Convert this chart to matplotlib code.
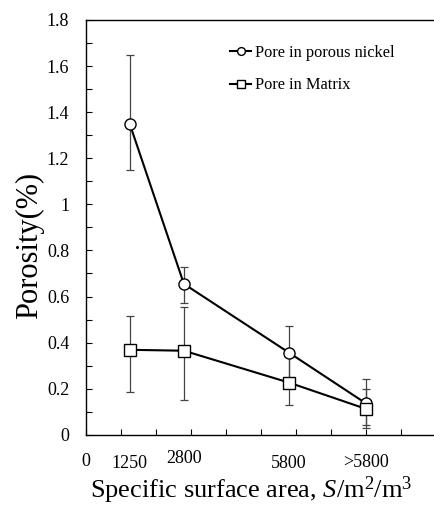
import matplotlib.pyplot as plt
import numpy as np

plt.rcParams['font.family'] = ['Liberation Serif', 'DejaVu Serif']
plt.rcParams['mathtext.fontset'] = 'custom'
plt.rcParams['mathtext.rm'] = 'Liberation Serif'
plt.rcParams['mathtext.it'] = 'Liberation Serif:italic'

# x positions (thousands) for each category
x_pos = [1.25, 2.8, 5.8, 8.0]
x_labels = ['1250', '2800', '5800', '>5800']

nickel = [1.35, 0.655, 0.357, 0.137]
nickel_lo = [1.15, 0.574, 0.24, 0.03]
nickel_hi = [1.65, 0.73, 0.474, 0.243]

matrix = [0.369, 0.365, 0.227, 0.113]
matrix_lo = [0.185, 0.152, 0.128, 0.043]
matrix_hi = [0.517, 0.556, 0.36, 0.2]

fig = plt.figure(figsize=(4.34, 5.11), dpi=100)
ax = fig.add_axes([0.198, 0.149, 0.806, 0.812])

n_err = [np.array(nickel) - np.array(nickel_lo), np.array(nickel_hi) - np.array(nickel)]
m_err = [np.array(matrix) - np.array(matrix_lo), np.array(matrix_hi) - np.array(matrix)]

ax.errorbar(x_pos, nickel, yerr=n_err, fmt='none', ecolor='#444444', elinewidth=0.9, capsize=3, capthick=0.9, zorder=1)
ax.errorbar(x_pos, matrix, yerr=m_err, fmt='none', ecolor='#444444', elinewidth=0.9, capsize=3, capthick=0.9, zorder=1)
ax.plot(x_pos, nickel, '-o', color='black', lw=1.5, ms=8, mfc='white', mec='black', mew=1.0, zorder=3,
        label='Pore in porous nickel')
ax.plot(x_pos, matrix, '-s', color='black', lw=1.5, ms=8, mfc='white', mec='black', mew=1.0, zorder=4,
        label='Pore in Matrix')

ax.set_xlim(0, 10)
ax.set_ylim(0, 1.8)
ax.set_yticks(np.arange(0, 1.81, 0.2))
ax.set_yticklabels(['0', '0.2', '0.4', '0.6', '0.8', '1', '1.2', '1.4', '1.6', '1.8'], fontsize=13)
ax.set_yticks(np.arange(0.1, 1.8, 0.2), minor=True)
ax.set_xticks(np.arange(0, 10.1, 1))
ax.set_xticklabels([])
ax.tick_params(axis='y', which='both', direction='in', length=4, width=0.8, pad=12)
ax.tick_params(axis='x', which='both', direction='in', length=4, width=0.8)
ax.spines['right'].set_visible(False)
for s in ['left', 'bottom', 'top']:
    ax.spines[s].set_linewidth(1.0)

# category labels below the axis
ax.text(0, -0.065, '0', transform=ax.get_xaxis_transform(), ha='center', va='center', fontsize=13)
offsets = [-0.07, -0.057, -0.07, -0.066]
for xp, lab, off in zip(x_pos, x_labels, offsets):
    ax.text(xp, off, lab, transform=ax.get_xaxis_transform(), ha='center', va='center', fontsize=13)

fig.text(0.069, 0.52, 'Porosity(%)', rotation=90, ha='center', va='center', fontsize=22)
fig.text(0.58, 0.04, r'Specific surface area, $\mathit{S}$/m$^{2}$/m$^{3}$', ha='center', va='center', fontsize=19)

ax.legend(loc='upper left', bbox_to_anchor=(0.37, 0.975), frameon=False, fontsize=11.8,
          handlelength=1.3, handletextpad=0.2, labelspacing=1.0, markerscale=0.7)

fig.savefig('out.png', dpi=100)
